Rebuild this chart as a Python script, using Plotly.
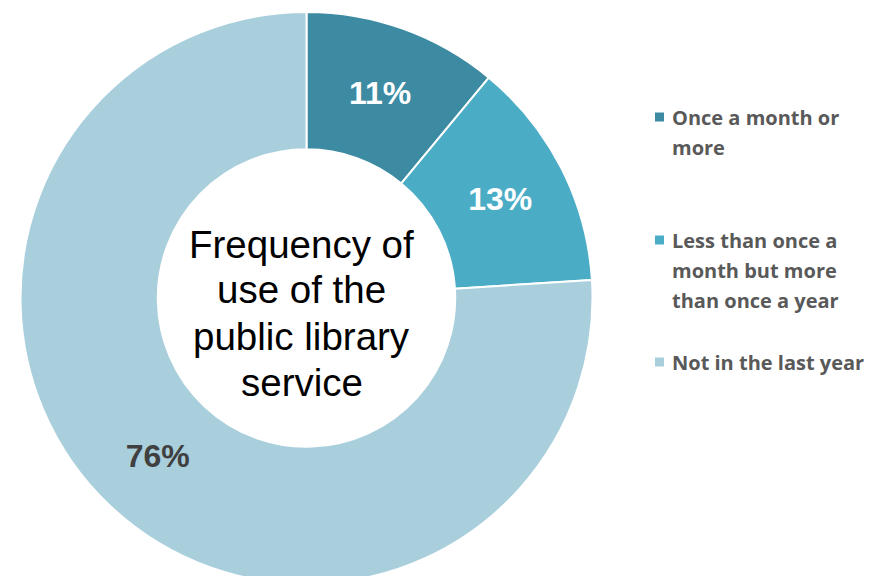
import plotly.graph_objects as go

# ---- data ----
categories = ["Once a month or more",
              "Less than once a month but more than once a year",
              "Not in the last year"]
values = [11, 13, 76]
legend_lines = [["Once a month or", "more"],
                ["Less than once a", "month but more", "than once a year"],
                ["Not in the last year"]]
center_lines = ["Frequency of", "use of the", "public library", "service"]

# ---- style ----
colors = ["#3D8BA2", "#4BACC6", "#A9CFDC"]
label_colors = ["#FFFFFF", "#FFFFFF", "#404040"]
W, H = 872, 576
OFF = 8  # page body margin in the browser


def px(xs):
    return (xs - OFF) / W


def py(ys):
    return 1 - (ys - OFF) / H


# donut geometry (screen pixels)
cx, cy, r = 306.5, 298, 286

fig = go.Figure()
fig.add_trace(go.Pie(
    labels=categories,
    values=values,
    sort=False,
    direction="clockwise",
    rotation=0,
    hole=0.52,
    marker=dict(colors=colors, line=dict(color="white", width=2)),
    texttemplate="%{percent:.0%}",
    textposition="inside",
    insidetextorientation="horizontal",
    textfont=dict(family="Liberation Sans, Arial", size=32, color=label_colors, weight="bold"),
    domain=dict(x=[px(cx - r), px(cx + r)], y=[max(0, py(cy + r)), py(cy - r)]),
    showlegend=False,
    hoverinfo="label+percent",
))

annotations = []
# centre text
for i, line in enumerate(center_lines):
    ys = 244 + i * 46
    annotations.append(dict(
        x=px(301.5), y=py(ys), xref="paper", yref="paper",
        text=line, showarrow=False, xanchor="center", yanchor="middle",
        font=dict(family="Liberation Sans, Arial", size=38.5, color="#000000"),
    ))

# manual legend
shapes = []
item_tops = [117, 240, 362]
line_gap = 30
for lines, col, ytop in zip(legend_lines, colors, item_tops):
    shapes.append(dict(type="rect", xref="paper", yref="paper",
                       x0=px(655), x1=px(664),
                       y0=py(ytop + 4.5), y1=py(ytop - 4.5),
                       fillcolor=col, line=dict(width=0)))
    for j, ln in enumerate(lines):
        ys = ytop + j * line_gap
        annotations.append(dict(
            x=px(670), y=py(ys), xref="paper", yref="paper",
            text=ln, showarrow=False, xanchor="left", yanchor="middle",
            font=dict(family="Open Sans, sans-serif", size=20, color="#595959", weight="bold"),
        ))

fig.update_layout(
    width=W, height=H,
    margin=dict(l=0, r=0, t=0, b=0),
    paper_bgcolor="white",
    plot_bgcolor="white",
    annotations=annotations,
    shapes=shapes,
)

fig.write_html("out.html")
